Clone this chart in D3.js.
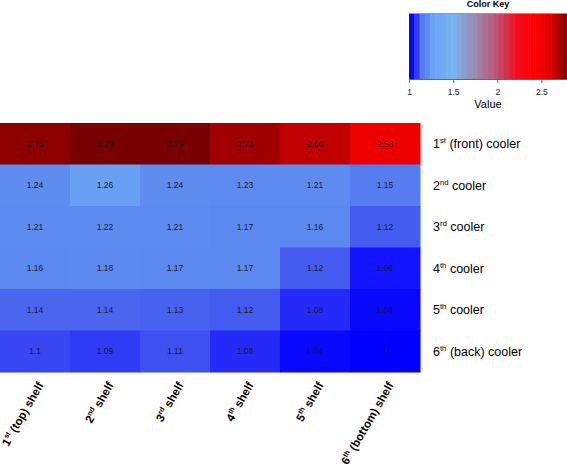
<!DOCTYPE html>
<html><head><meta charset="utf-8">
<script src="https://cdn.jsdelivr.net/npm/d3@7"></script>
<style>
html,body{margin:0;padding:0;background:#fff;}
svg{display:block;font-family:"Liberation Sans",Arial,Helvetica,sans-serif;}
</style></head>
<body>
<svg id="chart" width="567" height="471"></svg>
<script>
const shelves = ["1st (top) shelf","2nd shelf","3rd shelf","4th shelf","5th shelf","6th (bottom) shelf"];
const coolers = ["1st (front) cooler","2nd cooler","3rd cooler","4th cooler","5th cooler","6th (back) cooler"];
const row1 = [2.75, 2.79, 2.79, 2.73, 2.66, 2.53];
const row2 = [1.24, 1.26, 1.24, 1.23, 1.21, 1.15];
const row3 = [1.21, 1.22, 1.21, 1.17, 1.16, 1.12];
const row4 = [1.16, 1.18, 1.17, 1.17, 1.12, 1.06];
const row5 = [1.14, 1.14, 1.13, 1.12, 1.08, 1.04];
const row6 = [1.1, 1.09, 1.11, 1.08, 1.04, 1];
const values = [row1,row2,row3,row4,row5,row6];
const keyTicks = [1, 1.5, 2, 2.5];
const keyDomain = [1, 2.79];
const colorStops = [1.00, 1.04, 1.07, 1.085, 1.105, 1.125, 1.14, 1.155, 1.25, 1.26, 1.5, 1.75, 2.0, 2.2, 2.4, 2.53, 2.66, 2.73, 2.75, 2.79];
const colorRange = ["#0000ff","#0808ff","#1818ff","#2a35f6","#3c4bf2","#4660ef","#4a66ee","#5c89ef","#5e8cef","#68a0f4","#78b4f0","#9c88ae","#c05070","#f01020","#ff0000","#ee0000","#c00000","#a00000","#8c0000","#780000"];

const svg = d3.select("#chart");
const color = d3.scaleLinear().domain(colorStops).range(colorRange).clamp(true);
const x = d3.scaleBand().domain(shelves).range([0, 420]);
const y = d3.scaleBand().domain(coolers).range([123, 372]);

const cells = [];
values.forEach((r, i) => r.forEach((v, j) => cells.push({cooler: coolers[i], shelf: shelves[j], v})));

svg.append("g").selectAll("rect").data(cells).join("rect")
  .attr("x", d => x(d.shelf)).attr("y", d => y(d.cooler))
  .attr("width", x.bandwidth()+0.5).attr("height", y.bandwidth()+0.5)
  .attr("fill", d => color(d.v));

svg.append("g").selectAll("text").data(cells).join("text")
  .attr("x", d => x(d.shelf) + x.bandwidth()/2)
  .attr("y", d => y(d.cooler) + y.bandwidth()/2)
  .attr("text-anchor", "middle").attr("dominant-baseline", "central")
  .attr("font-size", 8.5).attr("fill", "#1a1a2a")
  .text(d => d.v);

function addLabel(sel, label, fs) {
  const m = label.match(/^(\d)(st|nd|rd|th)(.*)$/);
  const up = fs * 0.4;
  sel.append("tspan").text(m[1]);
  sel.append("tspan").attr("font-size", fs * 0.62).attr("dy", -up).text(m[2]);
  sel.append("tspan").attr("dy", up).text(m[3]);
}

// row labels
coolers.forEach(c => {
  const t = svg.append("text")
    .attr("x", 433).attr("y", y(c) + y.bandwidth()/2 + 4.5)
    .attr("font-size", 12.5).attr("fill", "#000");
  addLabel(t, c, 12.5);
});

// column labels
shelves.forEach(s => {
  const cx = x(s) + x.bandwidth()/2 + 9;
  const cy = 385;
  const t = svg.append("text")
    .attr("transform", `translate(${cx},${cy}) rotate(-60)`)
    .attr("text-anchor", "end")
    .attr("font-size", 11.5).attr("font-weight", "bold").attr("fill", "#000");
  addLabel(t, s, 11.5);
});

// color key
const kx = d3.scaleLinear().domain(keyDomain).range([409, 567]);
const nb = 30;
const step = (keyDomain[1]-keyDomain[0]) / nb;
const bands = d3.range(nb).map(i => keyDomain[0] + i*step);
svg.append("g").selectAll("rect").data(bands).join("rect")
  .attr("x", d => kx(d)).attr("y", 13)
  .attr("width", d => kx(d+step) - kx(d) + 0.5).attr("height", 66)
  .attr("fill", d => color(d + step/2));
svg.append("line").attr("x1", 409).attr("x2", 567).attr("y1", 13.5).attr("y2", 13.5)
  .attr("stroke", "#999").attr("stroke-width", 1);

const ax = svg.append("g").attr("transform", "translate(0,79)")
  .call(d3.axisBottom(kx).tickValues(keyTicks).tickSize(4).tickFormat(d3.format("")));
ax.select(".domain").attr("stroke", "#666");
ax.selectAll(".tick line").attr("stroke", "#666");
ax.selectAll(".tick text").attr("font-size", 8.5).attr("font-family", "Liberation Sans, Arial, sans-serif").attr("fill", "#222").attr("y", 10).attr("dy", "0.71em");

svg.append("text").attr("x", 488).attr("y", 7).attr("text-anchor", "middle")
  .attr("font-size", 9).attr("font-weight", "bold").text("Color Key");
svg.append("text").attr("x", 488).attr("y", 108).attr("text-anchor", "middle")
  .attr("font-size", 11).text("Value");
</script>
</body></html>
